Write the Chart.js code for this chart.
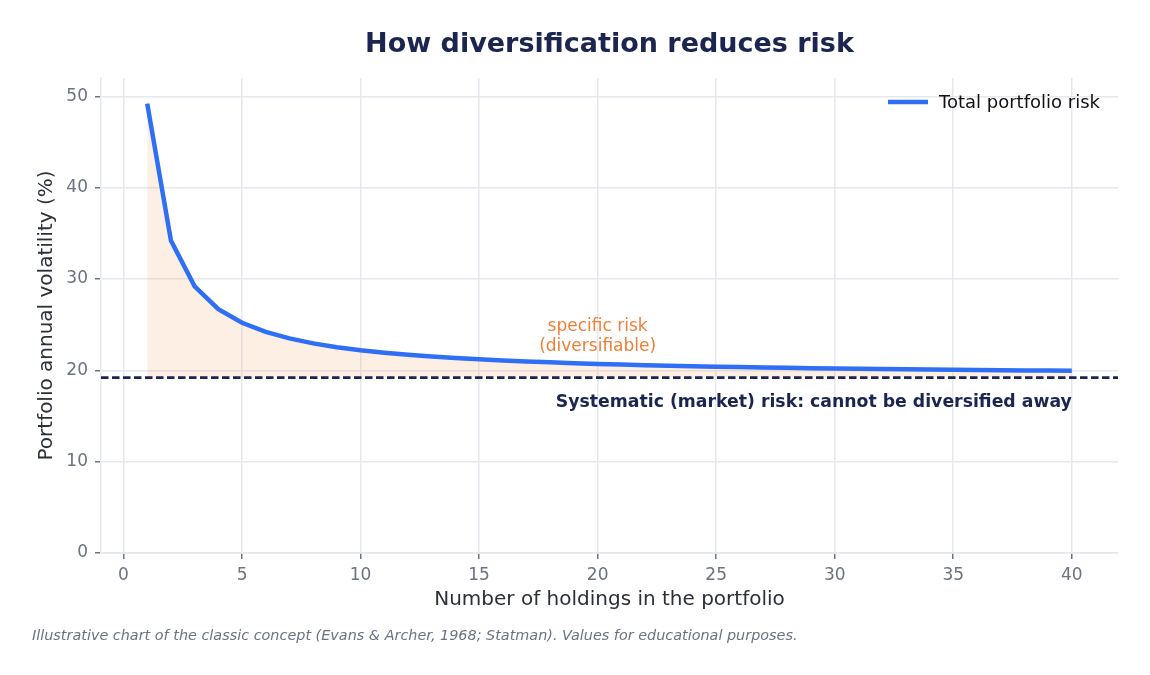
<!DOCTYPE html>
<html>
<head>
<meta charset="utf-8">
<script src="https://cdn.jsdelivr.net/npm/chart.js@4.4.1/dist/chart.umd.min.js"></script>
<style>
  body { margin: 0; background: #fff; }
  canvas { display: block; }
</style>
</head>
<body>
<canvas id="riskChart" width="1150" height="675"></canvas>
<script>
// values
const HOLDINGS = [1, 2, 3, 4, 5, 6, 7, 8, 9, 10, 11, 12, 13, 14, 15, 16, 17, 18, 19, 20,
                  21, 22, 23, 24, 25, 26, 27, 28, 29, 30, 31, 32, 33, 34, 35, 36, 37, 38, 39, 40];
const TOTAL_RISK = [49.2, 34.2, 29.2, 26.7, 25.2, 24.2, 23.49, 22.95, 22.53, 22.2,
                    21.93, 21.7, 21.51, 21.34, 21.2, 21.08, 20.96, 20.87, 20.78, 20.7,
                    20.63, 20.56, 20.5, 20.45, 20.4, 20.35, 20.31, 20.27, 20.23, 20.2,
                    20.17, 20.14, 20.11, 20.08, 20.06, 20.03, 20.01, 19.99, 19.97, 19.95];
const SYSTEMATIC_RISK = 19.2;
const X_TICKS = [0, 5, 10, 15, 20, 25, 30, 35, 40];
const Y_TICKS = [0, 10, 20, 30, 40, 50];

const FONT = "'DejaVu Sans', sans-serif";
const NAVY = "#1b2550";
const BLUE = "#2f6ff5";
const ORANGE = "#ef7f36";
const GRID = "#e6e8f0";
const TICK_GRAY = "#6b7280";

const extras = {
    id: "extras",
    afterDatasetsDraw(chart) {
        const { ctx, chartArea, scales } = chart;
        const x = scales.x, y = scales.y;
        ctx.save();

        // systematic risk dashed line
        const ys = y.getPixelForValue(SYSTEMATIC_RISK);
        ctx.strokeStyle = NAVY;
        ctx.lineWidth = 2.7;
        ctx.setLineDash([7.5, 3.5]);
        ctx.beginPath();
        ctx.moveTo(chartArea.left, ys);
        ctx.lineTo(chartArea.right, ys);
        ctx.stroke();
        ctx.setLineDash([]);

        // annotations
        ctx.fillStyle = ORANGE;
        ctx.font = "17px " + FONT;
        ctx.textAlign = "center";
        ctx.textBaseline = "middle";
        ctx.fillText("specific risk", x.getPixelForValue(20), 327);
        ctx.fillText("(diversifiable)", x.getPixelForValue(20), 347);

        ctx.fillStyle = NAVY;
        ctx.font = "bold 17.3px " + FONT;
        ctx.textAlign = "right";
        ctx.fillText("Systematic (market) risk: cannot be diversified away", x.getPixelForValue(40), 403);

        // legend
        ctx.strokeStyle = BLUE;
        ctx.lineWidth = 4.5;
        ctx.beginPath();
        ctx.moveTo(888, 102);
        ctx.lineTo(928, 102);
        ctx.stroke();
        ctx.fillStyle = "#111";
        ctx.font = "18px " + FONT;
        ctx.textAlign = "left";
        ctx.fillText("Total portfolio risk", 939, 103);
        ctx.restore();
    },
    afterDraw(chart) {
        const { ctx, chartArea } = chart;
        const cx = (chartArea.left + chartArea.right) / 2;
        ctx.save();
        ctx.textBaseline = "middle";

        ctx.fillStyle = NAVY;
        ctx.font = "bold 27px " + FONT;
        ctx.textAlign = "center";
        ctx.fillText("How diversification reduces risk", cx, 45);

        ctx.fillStyle = "#2b2f3a";
        ctx.font = "20px " + FONT;
        ctx.fillText("Number of holdings in the portfolio", cx, 600);

        ctx.save();
        ctx.translate(47, (chartArea.top + chartArea.bottom) / 2);
        ctx.rotate(-Math.PI / 2);
        ctx.fillText("Portfolio annual volatility (%)", 0, 0);
        ctx.restore();

        ctx.fillStyle = TICK_GRAY;
        ctx.font = "italic 14.4px " + FONT;
        ctx.textAlign = "left";
        ctx.fillText("Illustrative chart of the classic concept (Evans & Archer, 1968; Statman). Values for educational purposes.", 32, 636);
        ctx.restore();
    }
};

document.addEventListener("DOMContentLoaded", function() {
    const ctx = document.getElementById("riskChart").getContext("2d");

    new Chart(ctx, {
        type: "line",
        data: {
            datasets: [{
                label: "Total portfolio risk",
                data: HOLDINGS.map((n, i) => ({ x: n, y: TOTAL_RISK[i] })),
                borderColor: BLUE,
                borderWidth: 4.5,
                pointRadius: 0,
                tension: 0,
                fill: { value: SYSTEMATIC_RISK },
                backgroundColor: "rgba(240, 128, 50, 0.13)"
            }]
        },
        options: {
            responsive: false,
            animation: false,
            layout: { padding: { left: 0, right: 32, top: 78, bottom: 0 } },
            plugins: {
                legend: { display: false },
                title: { display: false },
                tooltip: { enabled: false }
            },
            scales: {
                x: {
                    type: "linear",
                    min: -0.95,
                    max: 41.95,
                    afterBuildTicks: s => { s.ticks = X_TICKS.map(v => ({ value: v })); },
                    afterFit: s => { s.height = 122; },
                    grid: { color: GRID, lineWidth: 1.5, tickColor: TICK_GRAY, tickLength: 6 },
                    border: { color: GRID, width: 1.5 },
                    ticks: { color: TICK_GRAY, font: { family: FONT, size: 17 }, padding: 6, maxRotation: 0 }
                },
                y: {
                    min: 0,
                    max: 52,
                    afterBuildTicks: s => { s.ticks = Y_TICKS.map(v => ({ value: v })); },
                    afterFit: s => { s.width = 101; },
                    grid: { color: GRID, lineWidth: 1.5, tickColor: TICK_GRAY, tickLength: 6 },
                    border: { color: GRID, width: 1.5 },
                    ticks: { color: TICK_GRAY, font: { family: FONT, size: 17 }, padding: 7 }
                }
            }
        },
        plugins: [extras]
    });
});
</script>
</body>
</html>
